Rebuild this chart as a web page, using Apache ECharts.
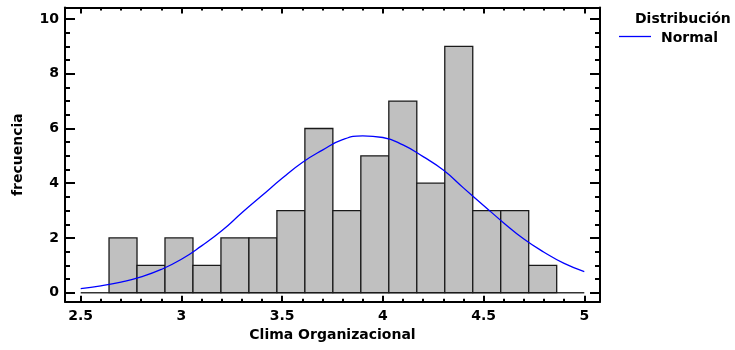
<!DOCTYPE html>
<html>
<head>
<meta charset="utf-8">
<script src="https://cdn.jsdelivr.net/npm/echarts@6/dist/echarts.min.js"></script>
<style>html,body{margin:0;padding:0;background:#fff;}#chart{width:735px;height:350px;}</style>
</head>
<body>
<div id="chart"></div>
<script>
// Histogram data
const binStart = 2.6406;
const binWidth = 0.1389;
const counts = [2, 1, 2, 1, 2, 2, 3, 6, 3, 5, 7, 4, 9, 3, 3, 1];

// Fitted normal curve
const curveX = [2.5, 2.6, 2.7, 2.8, 2.9, 3.0, 3.1, 3.2, 3.3, 3.4, 3.5, 3.6, 3.7, 3.8, 3.9, 4.0, 4.1, 4.2, 4.3, 4.4, 4.5, 4.6, 4.7, 4.8, 4.9, 5.0];
const curveY = [0.15, 0.25, 0.39, 0.58, 0.85, 1.22, 1.71, 2.26, 2.92, 3.55, 4.18, 4.76, 5.21, 5.59, 5.73, 5.67, 5.40, 4.97, 4.48, 3.83, 3.19, 2.55, 1.96, 1.48, 1.07, 0.77];

// Baseline segment
const baseX = [2.5, 5.0];

// Tick values
const xMajor = [2.5, 3, 3.5, 4, 4.5, 5];
const xMinor = [2.6, 2.7, 2.8, 2.9, 3.1, 3.2, 3.3, 3.4, 3.6, 3.7, 3.8, 3.9, 4.1, 4.2, 4.3, 4.4, 4.6, 4.7, 4.8, 4.9];
const yMajor = [0, 2, 4, 6, 8, 10];
const yMinor = [0.5, 1, 1.5, 2.5, 3, 3.5, 4.5, 5, 5.5, 6.5, 7, 7.5, 8.5, 9, 9.5];

const xTitle = 'Clima Organizacional';
const yTitle = 'frecuencia';
const legendLines = ['Distribución', 'Normal'];

const X_MIN = 2.422, X_MAX = 5.078, Y_MIN = -0.329, Y_MAX = 10.42;
const FONT = 'DejaVu Sans';

function xAxisDef(pos, ticks, len, showLine, showLabel, extra) {
  return Object.assign({
    type: 'value', position: pos, min: X_MIN, max: X_MAX,
    axisLine: { show: showLine, onZero: false, lineStyle: { color: '#000', width: 2 } },
    axisTick: { show: true, inside: true, length: len, customValues: ticks, lineStyle: { color: '#000', width: 2 } },
    axisLabel: { show: showLabel, customValues: ticks, margin: 8, color: '#000', fontFamily: FONT, fontWeight: 'bold', fontSize: 14,
      formatter: v => String(v) },
    splitLine: { show: false }
  }, extra || {});
}
function yAxisDef(pos, ticks, len, showLine, showLabel, extra) {
  return Object.assign({
    type: 'value', position: pos, min: Y_MIN, max: Y_MAX,
    axisLine: { show: showLine, onZero: false, lineStyle: { color: '#000', width: 2 } },
    axisTick: { show: true, inside: true, length: len, customValues: ticks, lineStyle: { color: '#000', width: 2 } },
    axisLabel: { show: showLabel, customValues: ticks, margin: 6, color: '#000', fontFamily: FONT, fontWeight: 'bold', fontSize: 14 },
    splitLine: { show: false }
  }, extra || {});
}

const chart = echarts.init(document.getElementById('chart'), null, { renderer: 'canvas' });

const binData = counts.map((c, i) => [binStart + i * binWidth, binStart + (i + 1) * binWidth, c]);

chart.setOption({
  animation: false,
  backgroundColor: '#fff',
  grid: { left: 65, right: 135, top: 7.5, bottom: 48.3, containLabel: false },
  xAxis: [
    xAxisDef('bottom', xMajor, 6, true, true, {
      name: xTitle, nameLocation: 'middle', nameGap: 26,
      nameTextStyle: { color: '#000', fontFamily: FONT, fontWeight: 'bold', fontSize: 14 }
    }),
    xAxisDef('bottom', xMinor, 3, false, false),
    xAxisDef('top', xMajor, 6, true, false),
    xAxisDef('top', xMinor, 3, false, false)
  ],
  yAxis: [
    yAxisDef('left', yMajor, 10, true, true, {
      name: yTitle, nameLocation: 'middle', nameGap: 40,
      nameTextStyle: { color: '#000', fontFamily: FONT, fontWeight: 'bold', fontSize: 14 }
    }),
    yAxisDef('left', yMinor, 5, false, false),
    yAxisDef('right', yMajor, 10, true, false),
    yAxisDef('right', yMinor, 5, false, false)
  ],
  series: [
    {
      type: 'line', xAxisIndex: 0, yAxisIndex: 0, z: 1,
      data: baseX.map(x => [x, 0]), showSymbol: false, silent: true,
      lineStyle: { color: '#333', width: 1.5 }
    },
    {
      type: 'custom', xAxisIndex: 0, yAxisIndex: 0, z: 2,
      data: binData,
      encode: { x: [0, 1], y: 2 },
      renderItem: function (params, api) {
        const p0 = api.coord([api.value(0), api.value(2)]);
        const p1 = api.coord([api.value(1), 0]);
        return {
          type: 'rect',
          shape: { x: p0[0], y: p0[1], width: p1[0] - p0[0], height: p1[1] - p0[1] },
          style: { fill: '#c0c0c0', stroke: '#1a1a1a', lineWidth: 1.3 }
        };
      }
    },
    {
      type: 'line', xAxisIndex: 0, yAxisIndex: 0, z: 3,
      data: curveX.map((x, i) => [x, curveY[i]]),
      smooth: true, showSymbol: false, silent: true,
      lineStyle: { color: '#0000ff', width: 1.3 }
    }
  ],
  graphic: [
    { type: 'text', left: 635, top: 12, style: { text: legendLines[0], fill: '#000', font: 'bold 14px "DejaVu Sans"' } },
    { type: 'text', left: 661, top: 31, style: { text: legendLines[1], fill: '#000', font: 'bold 14px "DejaVu Sans"' } },
    { type: 'line', shape: { x1: 619, y1: 36.5, x2: 651, y2: 36.5 }, style: { stroke: '#0000ff', lineWidth: 1.3 } }
  ]
});
</script>
</body>
</html>
